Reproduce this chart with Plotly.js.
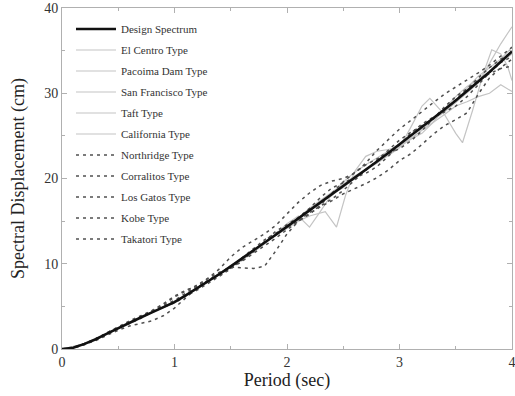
<!DOCTYPE html>
<html>
<head>
<meta charset="utf-8">
<script src="https://cdn.plot.ly/plotly-3.0.1.min.js"></script>
<style>html,body{margin:0;padding:0;background:#fff;}#chart{width:515px;height:396px;}</style>
</head>
<body>
<div id="chart"></div>
<script>
// Common period grid (sec)
const periods = [0,0.1,0.2,0.3,0.4,0.5,0.6,0.7,0.8,0.9,1.0,1.1,1.2,1.3,1.4,1.5,1.6,1.7,1.8,1.9,2.0,2.1,2.2,2.3,2.4,2.5,2.6,2.7,2.8,2.9,3.0,3.1,3.2,3.3,3.4,3.5,3.6,3.7,3.8,3.9,4.0];

const designSpectrum = [0,0.15,0.6,1.15,1.8,2.45,3.1,3.7,4.3,4.9,5.5,6.3,7.1,7.95,8.8,9.7,10.6,11.5,12.45,13.4,14.35,15.3,16.2,17.15,18.1,19.05,20.0,21.0,22.0,23.0,24.0,25.0,26.0,27.05,28.1,29.15,30.25,31.35,32.5,33.7,34.9];

// Solid gray records (own period points, to keep cusps)
const elCentroT = [0,0.2,0.4,0.6,0.8,1.0,1.2,1.4,1.6,1.8,1.9,2.0,2.1,2.2,2.3,2.4,2.5,2.6,2.7,2.8,2.9,3.0,3.1,3.2,3.3,3.4,3.5,3.6,3.7,3.8,3.9,4.0];
const elCentro  = [0,0.55,1.85,3.15,4.25,5.6,7.0,8.9,10.4,12.3,13.5,14.7,15.6,14.3,16.2,18.2,19.6,20.7,21.6,22.4,23.2,24.0,24.6,25.3,26.6,28.2,29.6,30.8,31.6,32.5,33.6,34.6];

const pacoimaT = [0,0.2,0.4,0.6,0.8,1.0,1.2,1.4,1.6,1.8,2.0,2.1,2.2,2.34,2.44,2.52,2.6,2.7,2.8,2.9,3.0,3.1,3.2,3.3,3.4,3.5,3.6,3.7,3.8,3.9,4.0];
const pacoima  = [0,0.6,1.8,3.05,4.35,5.45,7.2,8.7,10.7,12.5,14.1,15.0,15.6,16.1,14.3,18.0,20.8,22.6,23.2,23.4,23.7,24.6,25.7,26.9,27.9,29.0,30.6,32.0,33.0,34.0,35.4];

const sanFranciscoT = [0,0.2,0.4,0.6,0.8,1.0,1.2,1.4,1.6,1.8,2.0,2.2,2.4,2.6,2.8,3.0,3.1,3.2,3.27,3.4,3.5,3.56,3.65,3.75,3.82,3.9,3.96,4.0];
const sanFrancisco  = [0,0.6,1.75,3.1,4.3,5.5,7.1,8.85,10.6,12.4,14.2,16.5,18.4,20.3,21.8,23.6,26.0,28.5,29.4,27.5,25.3,24.2,28.0,32.5,35.1,34.6,33.2,31.5];

const taft = [0,0.15,0.6,1.2,1.75,2.5,3.05,3.75,4.3,4.95,5.45,6.35,7.05,8.0,8.75,9.8,10.5,11.6,12.4,13.5,14.3,15.4,16.1,17.3,18.0,19.2,19.9,21.1,21.9,23.1,23.9,25.1,25.8,26.9,27.8,28.9,30.0,31.2,33.5,35.8,37.8];
const california = [0,0.15,0.55,1.1,1.85,2.4,3.15,3.65,4.35,4.85,5.55,6.25,7.15,7.9,8.85,9.65,10.65,11.45,12.5,13.35,14.4,15.2,16.3,17.0,18.2,18.9,20.1,20.9,22.1,22.8,23.8,24.7,25.6,26.6,27.5,28.5,29.0,29.6,30.0,31.0,30.2];

// Dashed records
const northridge = [0,0.15,0.6,1.1,1.9,2.55,3.0,3.6,4.4,5.1,5.7,6.5,7.4,8.3,9.0,9.6,9.5,9.45,9.7,11.5,13.5,15.0,16.0,16.8,17.6,18.6,19.8,21.0,22.2,23.4,24.5,25.4,26.2,27.0,28.0,29.2,30.5,31.8,33.0,34.0,34.8];
const corralitos = [0,0.15,0.6,1.2,1.85,2.5,3.2,3.8,4.5,5.2,6.1,6.8,7.5,8.3,9.4,10.8,11.9,12.7,13.5,14.5,15.9,17.2,18.3,19.2,19.7,20.0,20.6,21.8,23.3,24.6,25.8,26.8,27.9,28.9,29.9,30.7,31.6,32.4,33.3,34.3,35.4];
const losGatos = [0,0.1,0.5,1.1,1.8,2.4,3.1,3.8,4.4,4.9,5.4,6.2,6.9,7.7,8.5,9.4,10.3,11.2,12.0,13.0,14.0,15.0,15.9,16.7,17.4,18.2,18.8,19.4,20.1,21.0,22.1,22.9,24.0,25.2,26.2,26.9,27.7,29.9,31.8,33.0,34.0];
const kobe = [0,0.15,0.55,1.0,1.6,2.2,2.7,3.0,3.3,3.9,4.8,6.0,7.2,8.1,8.8,9.5,10.4,11.4,12.6,13.8,14.6,15.4,16.5,17.8,18.9,19.5,20.1,20.6,21.4,22.6,23.9,25.3,26.4,27.2,27.8,28.5,29.6,31.0,32.4,33.6,34.3];
const takatori = [0,0.2,0.65,1.2,1.9,2.6,3.3,3.9,4.5,5.3,6.2,6.9,7.4,7.9,8.6,9.5,10.7,11.8,12.8,13.6,14.3,15.0,15.8,16.9,18.3,19.6,20.7,21.6,22.3,22.9,23.5,24.4,25.6,27.0,28.4,29.6,30.6,31.5,32.3,32.9,33.2];

const xTicks = [0,1,2,3,4];
const yTicks = [0,10,20,30,40];

const GRAY = '#c4c4c4';
const DASH = '#505050';
const serif = 'Liberation Serif, Times New Roman, serif';

function solid(name, x, y, rank) {
  return {x: x, y: y, name: name, type: 'scatter', mode: 'lines', legendgroup: name, legendrank: rank,
          line: {color: GRAY, width: 1.2}};
}
function dashed(name, y, rank) {
  return {x: periods, y: y, name: name, type: 'scatter', mode: 'lines', legendgroup: name, legendrank: rank,
          line: {color: DASH, width: 1.5, dash: '3px,4px'}};
}

const data = [
  solid('El Centro Type', elCentroT, elCentro, 2),
  solid('Pacoima Dam Type', pacoimaT, pacoima, 3),
  solid('San Francisco Type', sanFranciscoT, sanFrancisco, 4),
  solid('Taft Type', periods, taft, 5),
  solid('California Type', periods, california, 6),
  dashed('Northridge Type', northridge, 7),
  dashed('Corralitos Type', corralitos, 8),
  dashed('Los Gatos Type', losGatos, 9),
  dashed('Kobe Type', kobe, 10),
  dashed('Takatori Type', takatori, 11),
  {x: periods, y: designSpectrum, name: 'Design Spectrum', type: 'scatter', mode: 'lines',
   legendgroup: 'Design Spectrum', legendrank: 1, line: {color: '#111', width: 2.6}}
];

const axisCommon = {
  showline: true, mirror: 'ticks', linecolor: '#b0b0b0', linewidth: 1,
  ticks: 'inside', ticklen: 5, tickcolor: '#b0b0b0', tickwidth: 1,
  showgrid: false, zeroline: false, ticklabeloverflow: 'allow',
  tickfont: {family: serif, size: 14, color: '#333'}
};

const layout = {
  width: 515, height: 396,
  margin: {l: 62, r: 3, t: 8, b: 47},
  paper_bgcolor: '#fff', plot_bgcolor: '#fff',
  font: {family: serif, color: '#222'},
  showlegend: true,
  legend: {
    x: 0.02, y: 0.981, xanchor: 'left', yanchor: 'top',
    bgcolor: 'rgba(0,0,0,0)', borderwidth: 0,
    traceorder: 'grouped', tracegroupgap: 2, itemwidth: 40,
    font: {family: serif, size: 11, color: '#333'}
  },
  xaxis: Object.assign({}, axisCommon, {
    range: [0, 4], tickvals: xTicks, ticktext: xTicks.map(String),
    minor: {dtick: 0.5, tick0: 0, ticks: 'inside', ticklen: 3, tickcolor: '#b0b0b0'},
    title: {text: 'Period (sec)', font: {family: serif, size: 18, color: '#222'}, standoff: 2}
  }),
  yaxis: Object.assign({}, axisCommon, {
    range: [0, 40], tickvals: yTicks, ticktext: yTicks.map(String),
    minor: {dtick: 5, tick0: 0, ticks: 'inside', ticklen: 3, tickcolor: '#b0b0b0'},
    title: {text: 'Spectral Displacement (cm)', font: {family: serif, size: 18, color: '#222'}, standoff: 14}
  })
};

Plotly.newPlot('chart', data, layout, {displayModeBar: false, staticPlot: true});
</script>
</body>
</html>
